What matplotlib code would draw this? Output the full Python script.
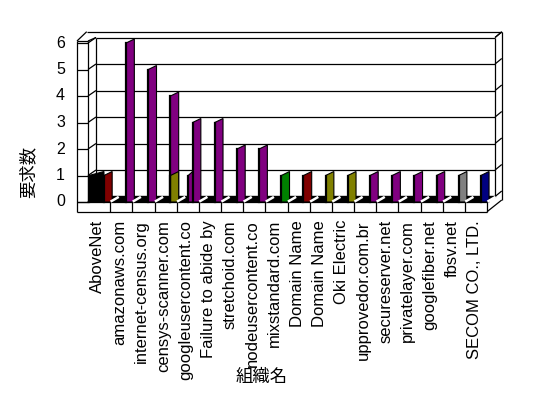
import matplotlib.pyplot as plt
from matplotlib.patches import Polygon

plt.rcParams['font.family'] = ['Liberation Sans', 'Noto Sans CJK JP']

categories = ['AboveNet', 'amazonaws.com', 'internet-census.org', 'censys-scanner.com',
              'googleusercontent.co', 'Failure to abide by', 'stretchoid.com',
              'nodeusercontent.co', 'mixstandard.com', 'Domain Name', 'Domain Name',
              'Oki Electric', 'upprovedor.com.br', 'secureserver.net', 'privatelayer.com',
              'googlefiber.net', 'fbsv.net', 'SECOM CO., LTD.']
counts = [1, 6, 5, 4, 3, 3, 2, 2, 1, 1, 1, 1, 1, 1, 1, 1, 1, 1]
bar_colors = ['#800000', '#800080', '#800080', '#800080', '#800080', '#800080',
              '#800080', '#800080', '#008000', '#800000', '#808000', '#808000',
              '#800080', '#800080', '#800080', '#800080', '#808080', '#000080']
# a second, smaller series that shows up in a few slots
extra_counts = [1, 0, 0, 1, 1, 0, 0, 0, 0, 0, 0, 0, 0, 0, 0, 0, 0, 0]
extra_colors = ['#000000', None, None, '#808000', '#800080', None, None, None, None,
                None, None, None, None, None, None, None, None, None]
y_ticks = [0, 1, 2, 3, 4, 5, 6]

# pixel layout of the old 3D chart
X0, SW = 88.0, 22.17      # left of first slot, slot width (px)
Y0, VH = 202.0, 26.5      # value 0 (front), px per unit
DX, DY = 8.0, 5.5         # depth offset of the back wall (px)

fig = plt.figure(figsize=(5.48, 3.98), dpi=100)
ax = fig.add_axes([0, 0, 1, 1])
ax.set_xlim(-X0 / SW, (548 - X0) / SW)
ax.set_ylim((Y0 - 398) / VH, Y0 / VH)
ax.axis('off')


def P(xp, yp):
    return ((xp - X0) / SW, (Y0 - yp) / VH)


def line(p1, p2, **kw):
    a, b = P(*p1), P(*p2)
    kw.setdefault('color', 'black')
    kw.setdefault('lw', 0.9)
    ax.plot([a[0], b[0]], [a[1], b[1]], solid_capstyle='butt', **kw)


n = len(categories)
x_right = X0 + SW * n
back_top = Y0 - VH * 6 - DY

# back wall grid and left wall ticks
for v in y_ticks:
    fy = Y0 - VH * v
    by = fy - DY
    line((X0 + DX, by), (x_right + DX, by))
    line((X0, fy), (X0 + DX, by))
    line((77, fy), (X0, fy))
    line((x_right + DX, by), (x_right + DX + 6.7, by - 5.5))
    ax.text(*P(65, fy), str(v), ha='right', va='center', fontsize=11.5)

# walls
line((77, 41), (77, 211.7))
line((X0, 41), (X0, Y0))
line((X0 + DX, back_top), (X0 + DX, Y0 - DY))
line((77, 41), (X0, 41))
line((77, 41), (86.7, 31.7))
line((X0, 41), (X0 + DX, back_top))
line((86.7, 31.7), (x_right + DX + 6.7, 31.7))
line((x_right + DX, back_top), (x_right + DX + 6.7, 31.7))
line((x_right + DX, back_top), (x_right + DX, Y0 - DY))
line((x_right + DX + 6.7, 31.7), (x_right + DX + 6.7, 200))
line((x_right, 211.7), (x_right + DX + 6.7, 200))
line((x_right, Y0), (x_right + DX, Y0 - DY))

# floor strip and front boxes
ax.add_patch(Polygon([P(X0, Y0), P(x_right, Y0), P(x_right + DX, Y0 - DY),
                      P(X0 + DX, Y0 - DY)], closed=True, fc='black', ec='black', lw=1))
line((77, Y0), (x_right, Y0))
line((77, 211.7), (x_right, 211.7))
for k in range(1, n + 1):
    xe = X0 + SW * k
    line((xe, Y0), (xe, 211.7))

# bars
off, w, rise = 0.72, 0.37, 4.0 / VH


def bar(x, width, val, color):
    ax.add_patch(Polygon([(x, 0), (x, val), (x + width, val + rise), (x + width, 0)],
                         closed=True, fc=color, ec='black', lw=0.8, zorder=3))
    ax.plot([x, x], [0, val], color='black', lw=1.6, zorder=4)


extra_geom = {0: (-0.68, 0.68), 3: (0.0, w), 4: (-0.2, 0.2)}
for i, (c, col) in enumerate(zip(counts, bar_colors)):
    bar(i + off, w, c, col)
for i, (c, col) in enumerate(zip(extra_counts, extra_colors)):
    if c > 0:
        dx0, ww = extra_geom[i]
        bar(i + off + dx0, ww, c, col)

# white marks on the floor strip
for k in range(1, n + 1):
    xe = X0 + SW * k
    a, b = P(xe + 1.5, Y0 - 1), P(xe + 7.5, Y0 - 4.5)
    ax.plot([a[0], b[0]], [a[1], b[1]], color='white', lw=1.8, zorder=5)

# category labels
for i, name in enumerate(categories):
    ax.text(i + 0.43, P(0, 220)[1], name, rotation=90, ha='center', va='top', fontsize=12)

ax.text(*P(28, 172), '要求数', rotation=90, ha='center', va='center', fontsize=12.5)
ax.text(*P(262, 377), '組織名', ha='center', va='center', fontsize=12.5)

fig.savefig('out.png', dpi=100)
